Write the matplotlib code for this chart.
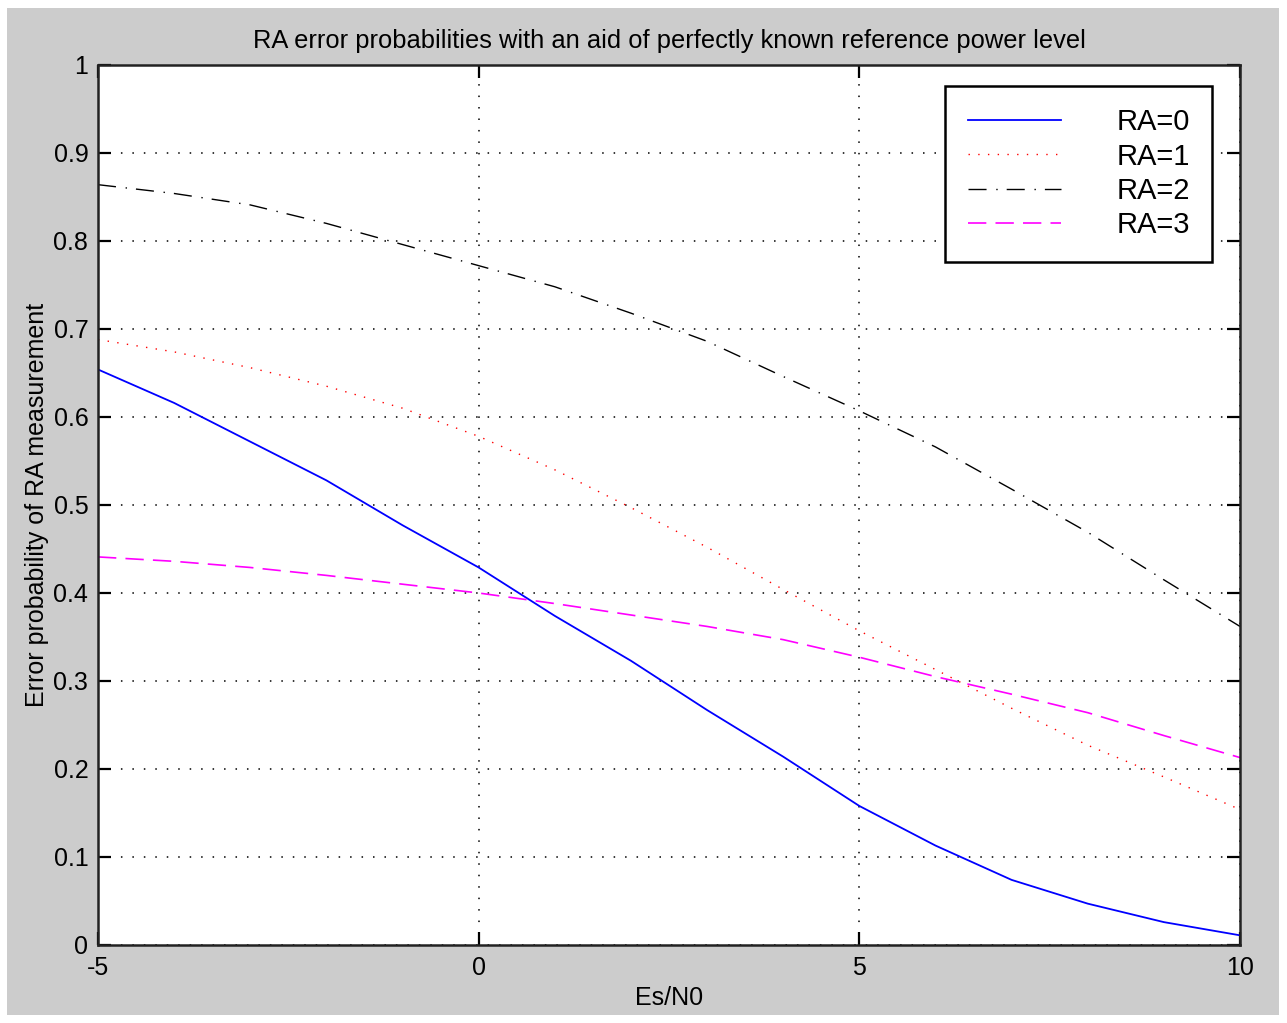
import matplotlib
matplotlib.use("Agg")
import matplotlib.pyplot as plt
from matplotlib.patches import Rectangle

es_n0 = [-5, -4, -3, -2, -1, 0, 1, 2, 3, 4, 5, 6, 7, 8, 9, 10]
ra0 = [0.654, 0.616, 0.572, 0.528, 0.477, 0.429, 0.374, 0.323, 0.267, 0.214, 0.158, 0.113, 0.074, 0.047, 0.026, 0.011]
ra1 = [0.688, 0.674, 0.656, 0.635, 0.610, 0.578, 0.540, 0.497, 0.452, 0.404, 0.357, 0.313, 0.269, 0.227, 0.191, 0.154]
ra2 = [0.864, 0.854, 0.841, 0.820, 0.796, 0.772, 0.748, 0.718, 0.686, 0.646, 0.607, 0.566, 0.518, 0.469, 0.415, 0.362]
ra3 = [0.441, 0.436, 0.429, 0.420, 0.410, 0.400, 0.388, 0.375, 0.362, 0.347, 0.327, 0.305, 0.285, 0.264, 0.238, 0.213]
labels = ["RA=0", "RA=1", "RA=2", "RA=3"]
xticks = [-5, 0, 5, 10]
yticks = [0, 0.1, 0.2, 0.3, 0.4, 0.5, 0.6, 0.7, 0.8, 0.9, 1]
ytick_labels = ["0", "0.1", "0.2", "0.3", "0.4", "0.5", "0.6", "0.7", "0.8", "0.9", "1"]

plt.rcParams['font.family'] = ['Liberation Sans', 'DejaVu Sans']
FS = 18

W, H = 1287, 1023
fig = plt.figure(figsize=(W / 100, H / 100), dpi=100, facecolor='white')
fig.patches.append(Rectangle((7 / W, 8 / H), (1279 - 7) / W, (1015 - 8) / H,
                             transform=fig.transFigure, facecolor='#cccccc',
                             edgecolor='none', zorder=-10))

L, R, T, B = 98, 1240, 65, 945
ax = fig.add_axes([L / W, 1 - B / H, (R - L) / W, (B - T) / H])
ax.set_facecolor('white')

ax.plot(es_n0, ra0, color='#0000ff', linestyle='-', linewidth=1.3, label=labels[0])
ax.plot(es_n0, ra1, color='#ff0000', linestyle=(0, (1, 6)), linewidth=1.0, label=labels[1])
ax.plot(es_n0, ra2, color='black', linestyle=(0, (13, 7, 1, 6.5)), linewidth=1.0, label=labels[2])
ax.plot(es_n0, ra3, color='#ff00ff', linestyle=(0, (11, 5.5)), linewidth=1.2, label=labels[3])

ax.set_xlim(-5, 10)
ax.set_ylim(0, 1)
ax.set_xticks(xticks)
ax.set_xticklabels([str(t) for t in xticks])
ax.set_yticks(yticks)
ax.set_yticklabels(ytick_labels)
ax.grid(True, color='black', linestyle=(0, (1, 6.5)), linewidth=1.1)
ax.tick_params(direction='in', length=9.5, width=1.6, top=True, right=True,
               labelsize=FS, colors='black')
ax.tick_params(axis='x', pad=8)
ax.tick_params(axis='y', pad=7)
for s in ax.spines.values():
    s.set_linewidth(1.8)
    s.set_color('#222222')

ax.set_title('RA error probabilities with an aid of perfectly known reference power level',
             fontsize=18.4, pad=12)
ax.set_xlabel('Es/N0', fontsize=FS, labelpad=4)
ax.set_ylabel('Error probability of RA measurement', fontsize=FS, labelpad=3)

leg = ax.legend(loc='upper right', bbox_to_anchor=((1212 - L) / (R - L), (B - 86) / (B - T)),
                fontsize=21, handlelength=3.2, handletextpad=1.9, labelspacing=0.22,
                borderpad=0.76, borderaxespad=0, fancybox=False, framealpha=1,
                edgecolor='black')
leg.get_frame().set_linewidth(1.8)

fig.savefig('out.png', dpi=100, facecolor=fig.get_facecolor())
